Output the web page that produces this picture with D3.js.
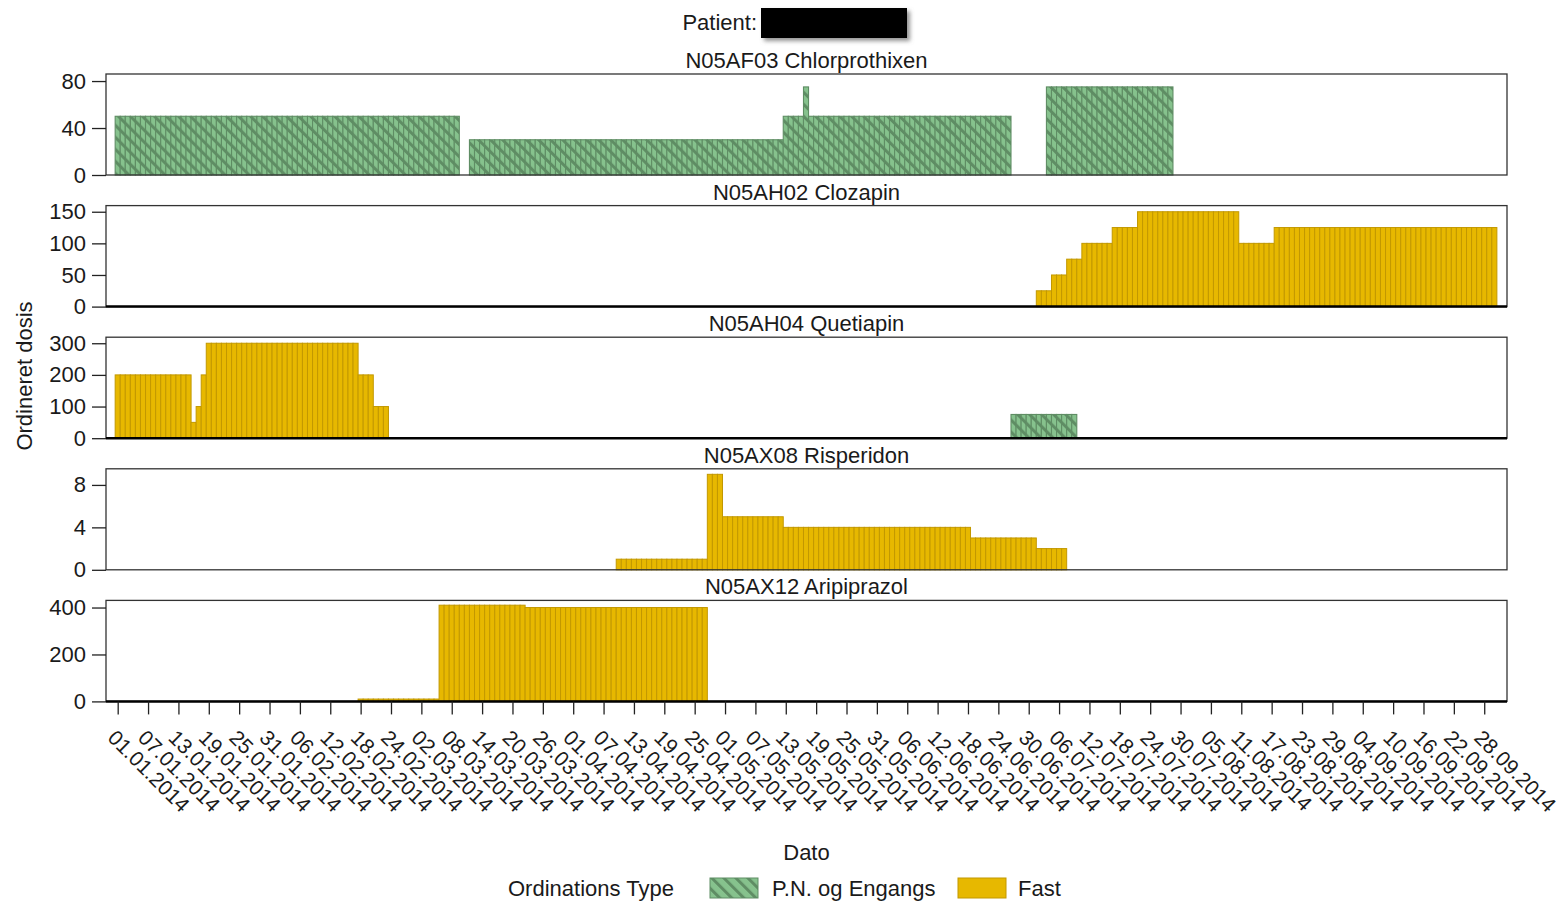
<!DOCTYPE html>
<html>
<head>
<meta charset="utf-8">
<script src="https://cdn.jsdelivr.net/npm/d3@7"></script>
<style>
body { margin: 0; background: #fff; }
text { font-family: "Liberation Sans", Arial, sans-serif; fill: #1a1a1a; }
</style>
</head>
<body>
<script>
// dose runs per drug: [first day, last day, dose]
let chlorPN = [
  ["01.01.2014", "09.03.2014", 50],
  ["12.03.2014", "12.05.2014", 30],
  ["13.05.2014", "16.05.2014", 50],
  ["17.05.2014", "17.05.2014", 75],
  ["18.05.2014", "26.06.2014", 50],
  ["04.07.2014", "28.07.2014", 75]
];
let clozFast = [
  ["02.07.2014", "04.07.2014", 25],
  ["05.07.2014", "07.07.2014", 50],
  ["08.07.2014", "10.07.2014", 75],
  ["11.07.2014", "16.07.2014", 100],
  ["17.07.2014", "21.07.2014", 125],
  ["22.07.2014", "10.08.2014", 150],
  ["11.08.2014", "17.08.2014", 100],
  ["18.08.2014", "30.09.2014", 125]
];
let quetFast = [
  ["01.01.2014", "15.01.2014", 200],
  ["16.01.2014", "16.01.2014", 50],
  ["17.01.2014", "17.01.2014", 100],
  ["18.01.2014", "18.01.2014", 200],
  ["19.01.2014", "17.02.2014", 300],
  ["18.02.2014", "20.02.2014", 200],
  ["21.02.2014", "23.02.2014", 100]
];
let quetPN = [
  ["27.06.2014", "09.07.2014", 75]
];
let rispFast = [
  ["10.04.2014", "27.04.2014", 1],
  ["28.04.2014", "30.04.2014", 9],
  ["01.05.2014", "12.05.2014", 5],
  ["13.05.2014", "18.06.2014", 4],
  ["19.06.2014", "01.07.2014", 3],
  ["02.07.2014", "07.07.2014", 2]
];
let ariFast = [
  ["18.02.2014", "05.03.2014", 10],
  ["06.03.2014", "22.03.2014", 410],
  ["23.03.2014", "27.04.2014", 400]
];

let titles = ["N05AF03 Chlorprothixen", "N05AH02 Clozapin", "N05AH04 Quetiapin", "N05AX08 Risperidon", "N05AX12 Aripiprazol"];
let pnRuns = [chlorPN, [], quetPN, [], []];
let fastRuns = [[], clozFast, quetFast, rispFast, ariFast];
let yMax = [86, 159.7, 319.1, 9.52, 430.4];
let yTicks = [[0, 40, 80], [0, 50, 100, 150], [0, 100, 200, 300], [0, 4, 8], [0, 200, 400]];

let tickLabels = ["01.01.2014", "07.01.2014", "13.01.2014", "19.01.2014", "25.01.2014", "31.01.2014",
  "06.02.2014", "12.02.2014", "18.02.2014", "24.02.2014", "02.03.2014", "08.03.2014", "14.03.2014",
  "20.03.2014", "26.03.2014", "01.04.2014", "07.04.2014", "13.04.2014", "19.04.2014", "25.04.2014",
  "01.05.2014", "07.05.2014", "13.05.2014", "19.05.2014", "25.05.2014", "31.05.2014", "06.06.2014",
  "12.06.2014", "18.06.2014", "24.06.2014", "30.06.2014", "06.07.2014", "12.07.2014", "18.07.2014",
  "24.07.2014", "30.07.2014", "05.08.2014", "11.08.2014", "17.08.2014", "23.08.2014", "29.08.2014",
  "04.09.2014", "10.09.2014", "16.09.2014", "22.09.2014", "28.09.2014"];

let width = 1560;
let height = 901;
let left = 106, right = 1507;
let DAY = 864e5;

let parse = d3.utcParse("%d.%m.%Y");
let fmt = d3.utcFormat("%d.%m.%Y");
let t0 = parse("01.01.2014");

let x = d3.scaleUtc()
.domain([new Date(+t0 - 2.31 * DAY), new Date(+t0 + 274.5 * DAY)])
.range([left, right]);

let svg = d3.select('body')
.append('svg')
.attr('width', width)
.attr('height', height);

let defs = svg.append('defs');
let pat = defs.append('pattern')
.attr('id', 'pn')
.attr('patternUnits', 'userSpaceOnUse')
.attr('width', 8.5)
.attr('height', 8.5)
.attr('patternTransform', 'rotate(-45)');
pat.append('rect').attr('width', 8.5).attr('height', 8.5).attr('fill', '#86c28d');
pat.append('rect').attr('width', 3).attr('height', 8.5).attr('fill', '#5f8d64');

let shadow = defs.append('filter').attr('id', 'shadow')
.attr('x', '-10%').attr('y', '-20%').attr('width', '130%').attr('height', '160%');
shadow.append('feDropShadow')
.attr('dx', 3).attr('dy', 3).attr('stdDeviation', 2)
.attr('flood-color', '#777').attr('flood-opacity', 0.8);

// header
svg.append('text')
.attr('x', 757).attr('y', 30)
.attr('text-anchor', 'end')
.attr('font-size', 22)
.text('Patient:');
svg.append('rect')
.attr('x', 761).attr('y', 8).attr('width', 146).attr('height', 30)
.attr('fill', '#000')
.attr('filter', 'url(#shadow)');

function days(runs){
    let out = [];
    runs.forEach(function(r){
        d3.utcDay.range(parse(r[0]), d3.utcDay.offset(parse(r[1]), 1)).forEach(function(d){
            out.push({date: d, dose: r[2]});
        });
    });
    return out;
}

function bx(d){ return x(new Date(+d.date - DAY / 2)); }
function bw(d){ return x(new Date(+d.date + DAY / 2)) - x(new Date(+d.date - DAY / 2)); }

titles.forEach(function(title, i){
    let top = 74 + i * 131.6;
    let bottom = top + 101;
    let y = d3.scaleLinear().domain([0, yMax[i]]).range([bottom, top]);
    let g = svg.append('g');

    g.append('text')
    .attr('x', (left + right) / 2)
    .attr('y', top - 6)
    .attr('text-anchor', 'middle')
    .attr('font-size', 22)
    .text(title);

    g.selectAll('rect.fast')
    .data(days(fastRuns[i]))
    .enter()
    .append('rect')
    .attr('class', 'fast')
    .attr('x', bx)
    .attr('width', bw)
    .attr('y', function(d){ return y(d.dose); })
    .attr('height', function(d){ return y(0) - y(d.dose); })
    .attr('fill', '#e7b800')
    .attr('stroke', '#c29800')
    .attr('stroke-width', 1);

    g.selectAll('rect.pn')
    .data(days(pnRuns[i]))
    .enter()
    .append('rect')
    .attr('class', 'pn')
    .attr('x', bx)
    .attr('width', bw)
    .attr('y', function(d){ return y(d.dose); })
    .attr('height', function(d){ return y(0) - y(d.dose); })
    .attr('fill', 'url(#pn)')
    .attr('stroke', '#5f8d64')
    .attr('stroke-width', 1.1);

    g.append('rect')
    .attr('x', left).attr('y', top)
    .attr('width', right - left).attr('height', bottom - top)
    .attr('fill', 'none')
    .attr('stroke', '#333')
    .attr('stroke-width', 1.3);

    if (fastRuns[i].length && i != 3) {
        g.append('line')
        .attr('x1', left).attr('x2', right)
        .attr('y1', bottom).attr('y2', bottom)
        .attr('stroke', '#000')
        .attr('stroke-width', 2.5);
    }

    let ya = g.append('g')
    .attr('transform', 'translate(' + left + ',0)')
    .call(d3.axisLeft(y).tickValues(yTicks[i]).tickSize(14).tickPadding(6));
    ya.select('.domain').remove();
    ya.selectAll('line').attr('stroke', '#222').attr('stroke-width', 1.3);
    ya.selectAll('text').attr('font-size', 22).attr('fill', '#1a1a1a')
    .attr('font-family', '"Liberation Sans", Arial, sans-serif');

    if (i == titles.length - 1) {
        let xa = g.append('g')
        .attr('transform', 'translate(0,' + bottom + ')')
        .call(d3.axisBottom(x).tickValues(tickLabels.map(parse)).tickFormat(fmt).tickSize(13));
        xa.select('.domain').remove();
        xa.selectAll('line').attr('stroke', '#222').attr('stroke-width', 1.3);
        xa.selectAll('text')
        .attr('font-size', 21)
        .attr('fill', '#1a1a1a')
        .attr('font-family', '"Liberation Sans", Arial, sans-serif')
        .attr('text-anchor', 'start')
        .attr('x', 0).attr('y', 0).attr('dy', '0.72em')
        .attr('transform', 'translate(-1,27) rotate(45)');
    }
});

// axis titles
svg.append('text')
.attr('x', (left + right) / 2).attr('y', 860)
.attr('text-anchor', 'middle')
.attr('font-size', 22)
.text('Dato');

svg.append('text')
.attr('transform', 'translate(32,376) rotate(-90)')
.attr('text-anchor', 'middle')
.attr('font-size', 22)
.text('Ordineret dosis');

// legend
let legend = svg.append('g');
legend.append('text').attr('x', 508).attr('y', 896).attr('font-size', 22).text('Ordinations Type');
legend.append('rect').attr('x', 710).attr('y', 878).attr('width', 48).attr('height', 20)
.attr('fill', 'url(#pn)').attr('stroke', '#5f8d64').attr('stroke-width', 1);
legend.append('text').attr('x', 772).attr('y', 896).attr('font-size', 22).text('P.N. og Engangs');
legend.append('rect').attr('x', 958).attr('y', 878).attr('width', 48).attr('height', 20)
.attr('fill', '#e7b800').attr('stroke', '#c29800').attr('stroke-width', 1);
legend.append('text').attr('x', 1018).attr('y', 896).attr('font-size', 22).text('Fast');
</script>
</body>
</html>
